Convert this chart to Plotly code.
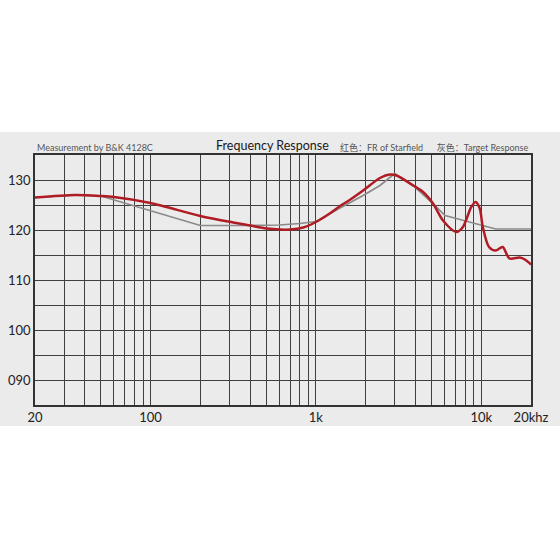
import math
import plotly.graph_objects as go

# ---- data ----
red_freq = [20, 35, 50, 60, 100, 200, 316, 400, 505, 700, 840, 1000, 1200, 1400, 1600, 1930, 2440,
            2800, 3070, 3880, 4450, 5110, 5870, 7070, 7750, 8700, 9250, 9800, 10220, 11140,
            12240, 13480, 14820, 17100, 18360, 20000]
red_db = [126.5, 127.0, 126.8, 126.6, 125.4, 122.8, 121.5, 120.9, 120.3, 120.1, 120.5, 121.6, 123.2, 124.8,
          126.0, 127.9, 130.4, 131.1, 130.9, 128.9, 127.6, 125.3, 121.9, 119.6, 120.6, 124.6,
          125.6, 124.3, 120.6, 116.6, 115.9, 116.6, 114.3, 114.5, 114.1, 113.1]

gray_freq = [20, 35, 50, 100, 200, 400, 600, 800, 1000, 1400, 1930, 2440, 3000, 3880, 5110,
             6040, 8200, 9800, 12240, 20000]
gray_db = [126.5, 127.0, 126.8, 123.8, 120.9, 120.9, 121.0, 121.3, 121.7, 124.4, 126.9, 128.9,
           131.3, 128.9, 125.3, 122.9, 121.7, 121.0, 120.2, 120.2]

grid_freqs = [20, 30, 40, 50, 60, 70, 80, 90, 100, 200, 300, 400, 500, 600, 700, 800, 900,
              1000, 2000, 3000, 4000, 5000, 6000, 7000, 8000, 9000, 10000, 20000]
x_labels = {20: "20", 100: "100", 1000: "1k", 10000: "10k", 20000: "20khz"}
y_grid = [85, 90, 95, 100, 105, 110, 115, 120, 125, 130, 135]
y_labels = {90: "090", 100: "100", 110: "110", 120: "120", 130: "130"}

title_text = "Frequency Response"
left_note = "Measurement by B&K 4128C"
right_note = "红色：FR of Starfield　  灰色：Target Response"

FONT = "Lato, Noto Sans CJK SC, sans-serif"

fig = go.Figure()
fig.add_trace(go.Scatter(x=gray_freq, y=gray_db, mode="lines",
                         line=dict(color="#8a8a8a", width=1.7), hoverinfo="skip"))
fig.add_trace(go.Scatter(x=red_freq, y=red_db, mode="lines",
                         line=dict(color="#b01c24", width=2.5, shape="spline", smoothing=0.8),
                         hoverinfo="skip"))

L, R, T, B = 35, 29, 155, 155
pw = 560 - L - R
ph = 560 - T - B

fig.update_layout(
    width=560, height=560,
    margin=dict(l=L, r=R, t=T, b=B, autoexpand=False),
    paper_bgcolor="white",
    plot_bgcolor="rgba(0,0,0,0)",
    showlegend=False,
    font=dict(family=FONT, color="#222"),
    shapes=[dict(type="rect", xref="paper", yref="paper", layer="below",
                 x0=-L / pw - 0.01, x1=1 + R / pw + 0.01,
                 y0=-(426 - 405) / ph, y1=(405 - 132) / ph,
                 fillcolor="#ebebeb", line=dict(width=0))],
    annotations=[
        dict(text=title_text, xref="paper", yref="paper", x=(272 - L) / pw, y=(405 - 145) / ph,
             showarrow=False, xanchor="center", yanchor="middle",
             font=dict(size=12.5, color="#1a1a1a", family=FONT)),
        dict(text=left_note, xref="paper", yref="paper", x=0, y=(405 - 147) / ph,
             showarrow=False, xanchor="left", yanchor="middle",
             font=dict(size=9, color="#555", family=FONT)),
        dict(text=right_note, xref="paper", yref="paper", x=1, y=(405 - 147) / ph,
             showarrow=False, xanchor="right", yanchor="middle",
             font=dict(size=9, color="#555", family=FONT)),
    ],
)

fig.update_xaxes(
    type="log", range=[math.log10(20), math.log10(20000)],
    tickmode="array", tickvals=grid_freqs,
    ticktext=[x_labels.get(f, "") for f in grid_freqs],
    showgrid=True, gridcolor="#404040", gridwidth=1.4,
    showline=True, linecolor="#333", linewidth=1.5, mirror=True,
    ticks="", tickfont=dict(size=13, color="#222"), zeroline=False, automargin=False,
)
fig.update_yaxes(
    range=[85, 135], tickmode="array", tickvals=y_grid,
    ticktext=[y_labels.get(v, "") for v in y_grid],
    showgrid=True, gridcolor="#404040", gridwidth=1.4,
    showline=True, linecolor="#333", linewidth=1.5, mirror=True,
    ticks="", tickfont=dict(size=13, color="#222"), zeroline=False, automargin=False,
)

fig.write_html("out.html",
               config={"displayModeBar": False},
               post_script="document.body.style.margin='0';document.body.style.overflow='hidden';")
